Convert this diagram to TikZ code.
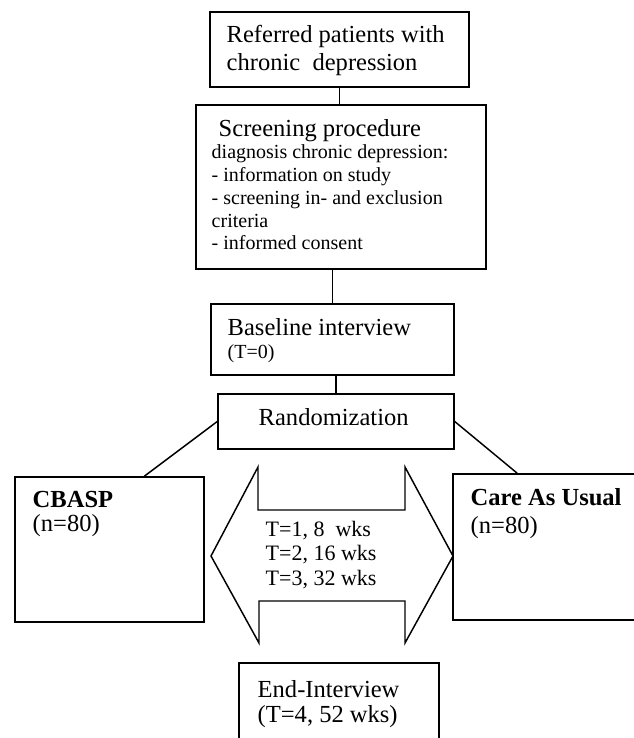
\documentclass[tikz,border=0pt]{standalone}
\usepackage{fontspec}
\setmainfont{Liberation Serif}
\usetikzlibrary{fit,calc}
\begin{document}
\begin{tikzpicture}[x=0.75pt,y=-0.75pt,line width=1.1pt,
  box/.style={draw,rectangle,inner sep=0pt,fill=none},
  txt/.style={inner sep=0pt,anchor=base west,align=left},
  big/.style={font=\fontsize{18.4}{21}\selectfont},
  small/.style={font=\fontsize{15}{17}\selectfont},
  mid/.style={font=\fontsize{16.5}{18.4}\selectfont}]
\useasboundingbox (0,0) rectangle (634,738);
% boxes
\node[box,fit={(210,12) (469,87)}] (b1) {};
\node[box,fit={(196,105) (486,269)}] (b2) {};
\node[box,fit={(211,304) (454,375)}] (b3) {};
\node[box,fit={(218,394) (454,449)}] (b4) {};
\node[box,fit={(15,477) (204,622)}] (cbasp) {};
\node[box,fit={(453,474) (640,620)}] (cau) {};
\node[box,fit={(239,663) (439,748)}] (endi) {};
% texts
\node[txt,big] (t1a) at (226,43) {Referred patients with};
\node[txt,big] (t1b) at (226,71) {chronic\ \ depression};
\node[txt,big] (t2a) at (218,137) {Screening procedure};
\node[txt,small] (t2b) at (211,159) {diagnosis chronic depression:};
\node[txt,small] (t2c) at (211,181.7) {- information on study};
\node[txt,small] (t2d) at (211,204.4) {- screening in- and exclusion};
\node[txt,small] (t2e) at (211,227.1) {criteria};
\node[txt,small] (t2f) at (211,249.8) {- informed consent};
\node[txt,big] (t3a) at (227,335) {Baseline interview};
\node[txt,small] (t3b) at (227,358) {(T=0)};
\node[txt,big] (t4) at (258,425) {Randomization};
\node[txt,big] (t5a) at (32,507) {\bfseries CBASP};
\node[txt,big] (t5b) at (32,531) {(n=80)};
\node[txt,big] (t6a) at (470,505) {\bfseries Care As Usual};
\node[txt,big] (t6b) at (470,533) {(n=80)};
\node[txt,mid] (t7a) at (265,536) {T=1, 8\ \ wks};
\node[txt,mid] (t7b) at (265,560.5) {T=2, 16 wks};
\node[txt,mid] (t7c) at (265,585) {T=3, 32 wks};
\node[txt,big] (t8a) at (257,697) {End-Interview};
\node[txt,big] (t8b) at (257,722) {(T=4, 52 wks)};
% connectors
\draw (b1.south) -- (b1.south |- b2.north);
\draw (b3.north) -- (b3.north |- b2.south);
\draw (b4.north) -- (b4.north |- b3.south);
\draw (b4.west) -- ($(cbasp.north west)+(130,0)$);
\draw (b4.east) -- ($(cau.north west)+(65,0)$);
% double arrow
\draw[line join=miter] (211,556) -- (258,467) -- (258,510) -- (405,510) -- (405,467)
  -- (453,556) -- (405,643) -- (405,601) -- (259,601) -- (259,643) -- cycle;
\end{tikzpicture}
\end{document}
